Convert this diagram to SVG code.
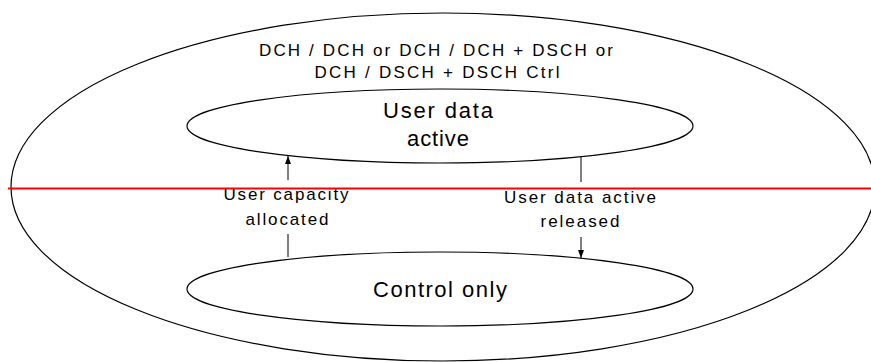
<svg xmlns="http://www.w3.org/2000/svg" width="871" height="362" viewBox="0 0 871 362">
  <defs>
    <marker id="arrow" viewBox="0 0 8 8" refX="8" refY="4" markerWidth="8" markerHeight="8" markerUnits="userSpaceOnUse" orient="auto">
      <path d="M0,1 L8,4 L0,7 Z" fill="#000"/>
    </marker>
  </defs>
  <style>
    .state { fill: none; stroke: #000; stroke-width: 1.2; }
    .edge { fill: none; stroke: #000; stroke-width: 1; }
    text { font-family: "Liberation Sans", Arial, sans-serif; fill: #000; text-anchor: middle; }
    .big { font-size: 22px; }
    .mid { font-size: 17px; }
  </style>

  <!-- enclosing state: dedicated channel configurations -->
  <g id="outer">
    <ellipse class="state" cx="443" cy="187" rx="432" ry="174"/>
    <text class="mid" x="436" y="56" textLength="354" lengthAdjust="spacing">DCH / DCH or DCH / DCH + DSCH or</text>
    <text class="mid" x="437" y="78" textLength="245" lengthAdjust="spacing">DCH / DSCH + DSCH Ctrl</text>
  </g>

  <g id="user-data-active">
    <ellipse class="state" cx="440" cy="126" rx="253" ry="37"/>
    <text class="big" x="438" y="118" textLength="110" lengthAdjust="spacing">User data</text>
    <text class="big" x="438" y="146" textLength="62" lengthAdjust="spacing">active</text>
  </g>

  <g id="control-only">
    <ellipse class="state" cx="440" cy="289" rx="253" ry="37"/>
    <text class="big" x="440" y="297" textLength="134" lengthAdjust="spacing">Control only</text>
  </g>

  <g id="connectors">
    <!-- Control only -> User data active -->
    <line class="edge" x1="288" y1="257" x2="288" y2="234"/>
    <line class="edge" x1="288" y1="180" x2="288" y2="156" marker-end="url(#arrow)"/>
    <text class="mid" x="286" y="200" textLength="125" lengthAdjust="spacing">User capacity</text>
    <text class="mid" x="287" y="225" textLength="83" lengthAdjust="spacing">allocated</text>
    <!-- User data active -> Control only -->
    <line class="edge" x1="581" y1="157" x2="581" y2="182"/>
    <line class="edge" x1="581" y1="237" x2="581" y2="258" marker-end="url(#arrow)"/>
    <text class="mid" x="580" y="203" textLength="152" lengthAdjust="spacing">User data active</text>
    <text class="mid" x="580" y="227" textLength="79" lengthAdjust="spacing">released</text>
  </g>

  <!-- horizontal divider -->
  <line x1="8" y1="188.5" x2="871" y2="188.5" stroke="#ff0000" stroke-width="2"/>
</svg>
